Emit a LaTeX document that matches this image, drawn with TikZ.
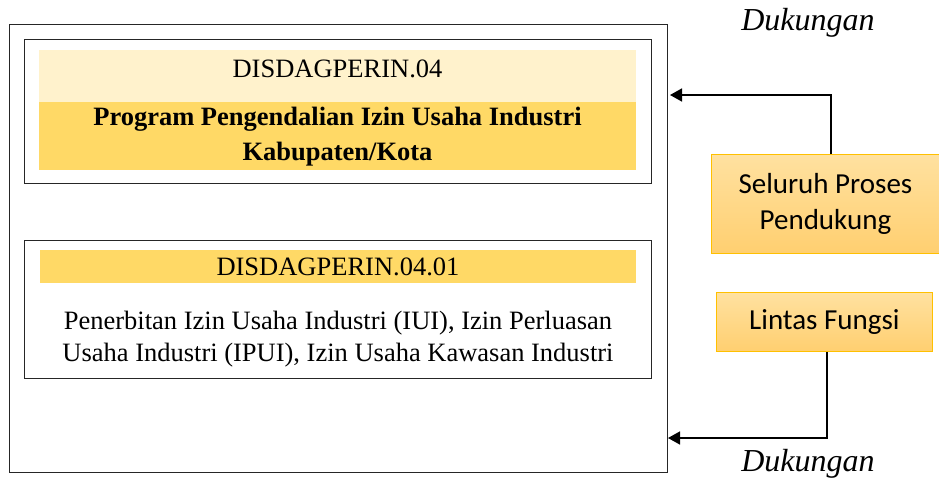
\documentclass[tikz,border=0pt]{standalone}
\usepackage{fontspec}
\setmainfont{Liberation Serif}
\newfontfamily\calibrifont{Carlito}
\usetikzlibrary{arrows.meta}
\definecolor{bandlight}{HTML}{FFF2CC}
\definecolor{banddark}{HTML}{FFD966}
\definecolor{sidetop}{HTML}{FFE1A0}
\definecolor{sidebot}{HTML}{FFCF70}
\definecolor{sideedge}{HTML}{FFC000}
\begin{document}
\begin{tikzpicture}[x=1pt,y=-1pt,
  frame/.style={draw=black!85,line width=0.8pt},
  band/.style={inner sep=0pt,outer sep=0pt},
  serif/.style={font=\fontsize{26.5}{32}\selectfont,align=center},
  sidebox/.style={draw=sideedge,line width=0.8pt,top color=sidetop,bottom color=sidebot,
    font=\calibrifont\fontsize{29}{36}\selectfont,align=center,inner sep=0pt},
  link/.style={line width=1.6pt,-{Triangle[length=12pt,width=13pt]}},
  note/.style={font=\itshape\fontsize{32}{36}\selectfont}]
\useasboundingbox (0,0) rectangle (939,482);
% outer frame and the two inner panels
\draw[frame] (9,24) rectangle (667,472);
\node[frame,band,minimum width=627,minimum height=144,anchor=north west] (prog) at (24,39) {};
\node[frame,band,minimum width=627,minimum height=138,anchor=north west] (keg) at (24,240) {};
% program panel
\fill[bandlight] (39,50) rectangle (636,102);
\fill[banddark] (39,102) rectangle (636,170);
\node[serif] (progcode) at (337.5,69) {DISDAGPERIN.04};
\node[serif,font=\bfseries\fontsize{26.5}{35}\selectfont] (progname) at (337.5,137)
  {Program Pengendalian Izin Usaha Industri\\Kabupaten/Kota};
% activity panel
\fill[banddark] (40,250) rectangle (636,283);
\node[serif] (kegcode) at (338,267) {DISDAGPERIN.04.01};
\node[serif] (kegname) at (338,339)
  {Penerbitan Izin Usaha Industri (IUI), Izin Perluasan\\Usaha Industri (IPUI), Izin Usaha Kawasan Industri};
% supporting boxes
\node[sidebox,minimum width=228,minimum height=99,anchor=north west] (proses) at (711,154)
  {Seluruh Proses\\Pendukung};
\node[sidebox,minimum width=216,minimum height=59,anchor=north west] (lintas) at (716,292)
  {Lintas Fungsi};
% connectors
\coordinate (topin) at (670,95);
\coordinate (botin) at (668,438);
\draw[link] (proses.north -| 831,0) |- (topin);
\draw[link] (lintas.south -| 827,0) |- (botin);
\node[note] (dukatas) at (808,23) {Dukungan};
\node[note] (dukbawah) at (808,464) {Dukungan};
\end{tikzpicture}
\end{document}
